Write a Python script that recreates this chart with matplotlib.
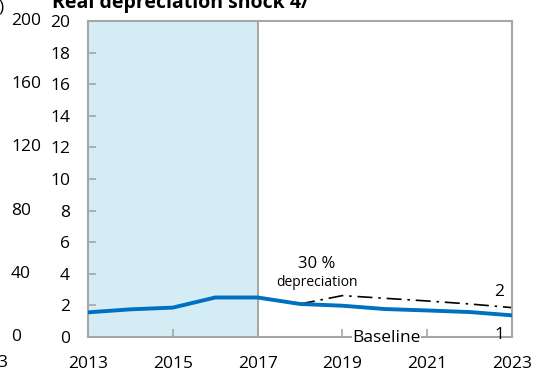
import numpy as np
import matplotlib.pyplot as plt
from matplotlib import transforms

plt.rcParams['font.family'] = ['Open Sans', 'DejaVu Sans']

years = [2013, 2014, 2015, 2016, 2017, 2018, 2019, 2020, 2021, 2022, 2023]
baseline = [1.56, 1.75, 1.86, 2.5, 2.5, 2.09, 1.98, 1.77, 1.68, 1.58, 1.37]
shock_years = [2018, 2019, 2020, 2021, 2022, 2023]
shock = [2.09, 2.62, 2.45, 2.28, 2.09, 1.86]

# right-hand scale of the neighbouring panel (cut off at the edge)
left_panel_ticks = [0, 40, 80, 120, 160, 200]

fig = plt.figure(figsize=(5.36, 3.69), dpi=100)
W, H = 536, 369
ax = fig.add_axes([88 / W, 1 - 337 / H, (512 - 88) / W, (337 - 21) / H])

ax.axvspan(2013, 2017, color='#D4EDF4', lw=0, zorder=0)
ax.axvline(2017, color='#A6A6A6', lw=1.4, zorder=1)

ax.plot(years, baseline, color='#0070C0', lw=2.8, solid_capstyle='butt', zorder=3)
ax.plot(shock_years, shock, color='black', lw=1.2, dashes=[9, 3.5, 1.5, 3.5], zorder=2)

ax.set_xlim(2013, 2023)
ax.set_ylim(0, 20)
ax.set_xticks(range(2013, 2024, 2))
ax.set_yticks(range(0, 21, 2))
ax.tick_params(axis='both', direction='in', length=6, width=1.2, color='#A6A6A6',
               labelsize=12.5, labelcolor='black')
ax.tick_params(axis='y', pad=13)
ax.tick_params(axis='x', pad=14)
for s in ax.spines.values():
    s.set_color('#A6A6A6')
    s.set_linewidth(1.5)

ax.text(2018.4, 4.62, '30 %', ha='center', va='center', fontsize=12)
ax.text(2018.4, 3.42, 'depreciation', ha='center', va='center', fontsize=10)
ax.text(2022.7, 2.85, '2', ha='center', va='center', fontsize=12.5)
ax.text(2022.7, 0.13, '1', ha='center', va='center', fontsize=12.5)
ax.text(2020.05, -0.05, 'Baseline', ha='center', va='center', fontsize=12.5,
        bbox=dict(facecolor='white', edgecolor='none', pad=0.3), zorder=5)

# fragments of the panel to the left
trans = transforms.blended_transform_factory(fig.transFigure, ax.transData)
for v in left_panel_ticks:
    fig.text(11 / W, v / 10, str(v), ha='left', va='center', fontsize=12.5,
             transform=trans)
fig.text(-12 / W, 1 - 363 / H, '2023', ha='center', va='center', fontsize=12.5)
fig.text(-2 / W, 1 - 7 / H, ')', ha='left', va='center', fontsize=12.5)

fig.text(52 / W, 1 - 8 / H, 'Real depreciation shock 4/', ha='left',
         va='baseline', fontsize=14, fontweight='bold')

fig.savefig('out.png', dpi=100)
